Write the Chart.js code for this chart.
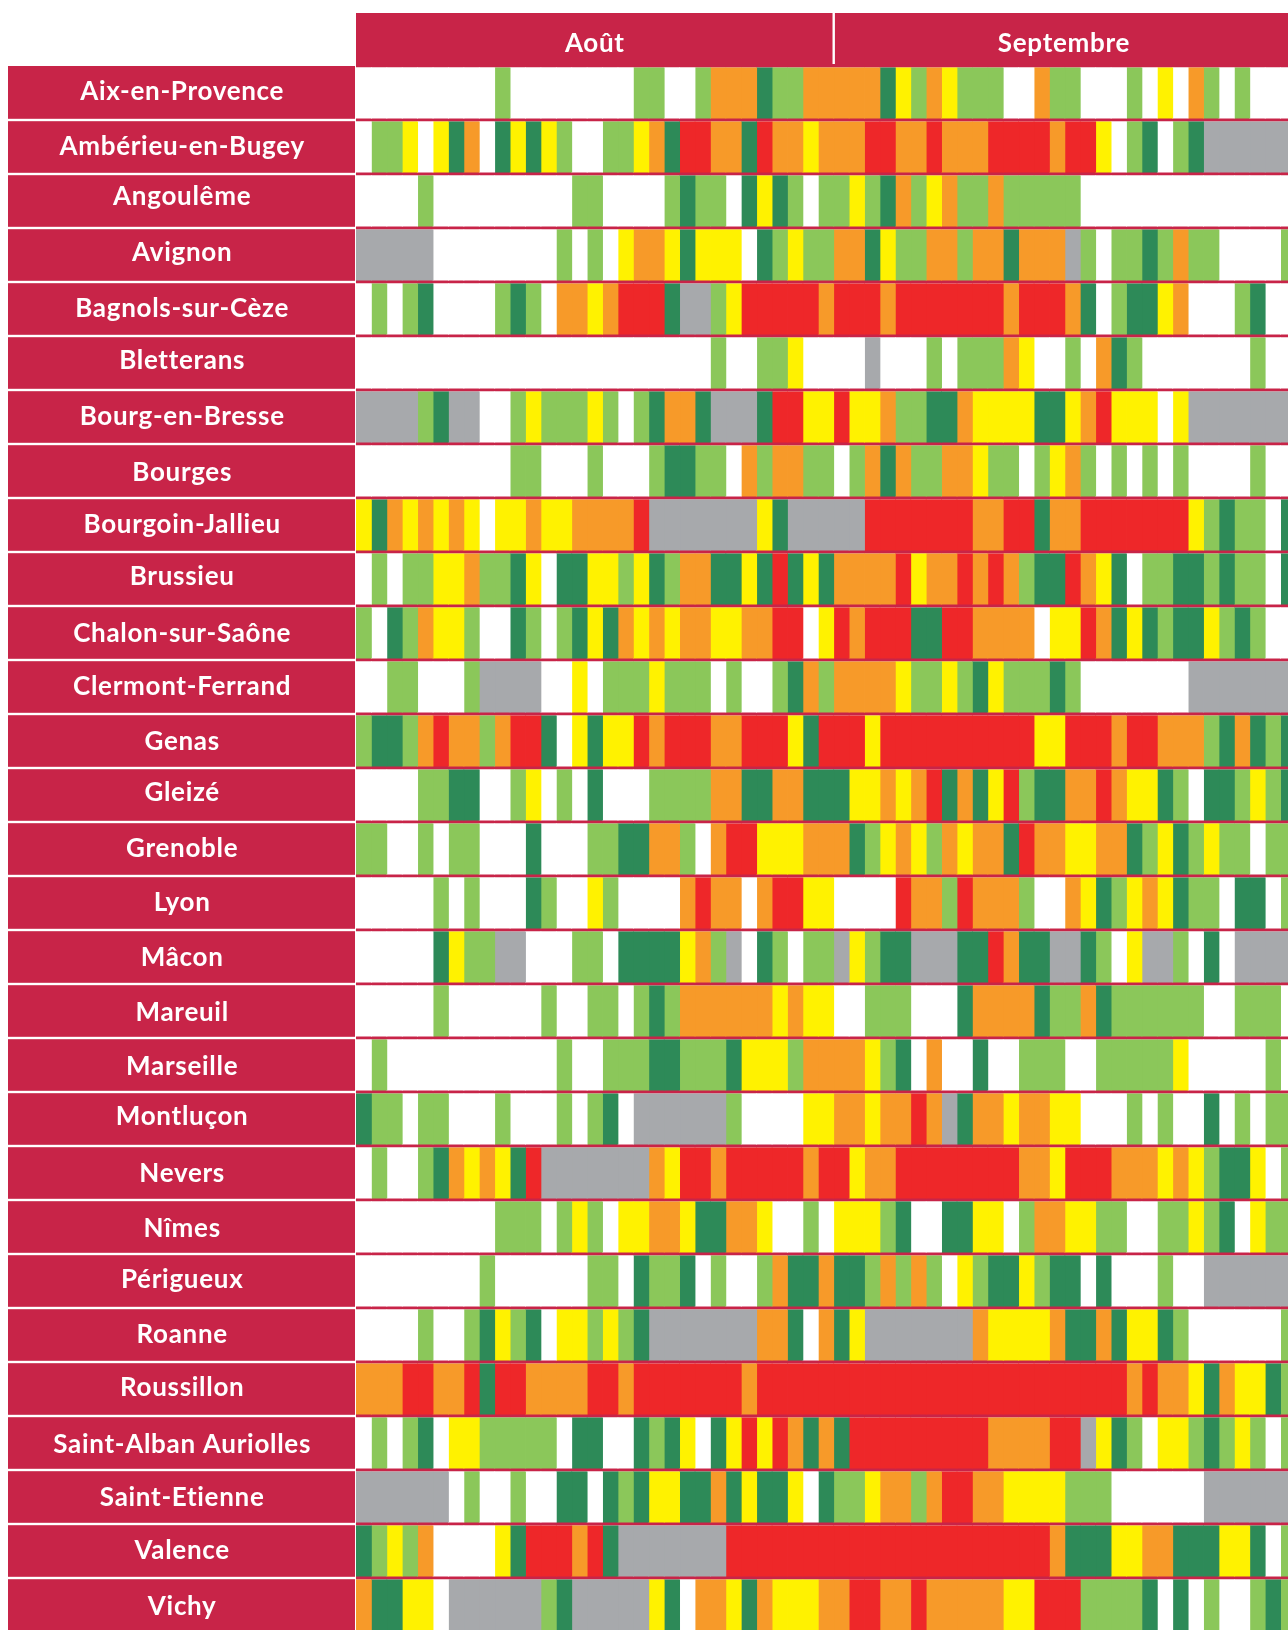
<!DOCTYPE html>
<html lang="fr">
<head>
<meta charset="utf-8">
<title>Août – Septembre</title>
<style>
html,body{margin:0;padding:0;background:#fff;width:1288px;height:1630px;overflow:hidden}
canvas{display:block}
</style>
<script src="https://cdn.jsdelivr.net/npm/chart.js@4"></script>
</head>
<body>
<canvas id="c" width="1288" height="1632"></canvas>
<script>
const cities = ["Aix-en-Provence","Ambérieu-en-Bugey","Angoulême","Avignon","Bagnols-sur-Cèze","Bletterans","Bourg-en-Bresse","Bourges","Bourgoin-Jallieu","Brussieu","Chalon-sur-Saône","Clermont-Ferrand","Genas","Gleizé","Grenoble","Lyon","Mâcon","Mareuil","Marseille","Montluçon","Nevers","Nîmes","Périgueux","Roanne","Roussillon","Saint-Alban Auriolles","Saint-Etienne","Valence","Vichy"];
const months = ["Août","Septembre"];
const monthCentres = [15.5,45.94];
const monthBreak = 31;
const dayCount = 61;
const visibleDays = 60.48;
// one letter per day, 1 Aug -> 30 Sep
const dailyLevels = [
"WWWWWWWWWGWWWWWWWWGGWWGOOODGGOOOOODYGOYGGGWWOGGWWWGWYWOGWGWWW",
"WGGYWYDOWDYDYGWWGGYODRROODROOYOOORROOROOORRRRORRYWGDWGDNNNNNN",
"WWWWGWWWWWWWWWGGWWWWGDGGWDYDGWGGYGDOGYOGGOGGGGGWWWWWWWWWWWWWW",
"NNNNNWWWWWWWWGWGWYOOYDYYYWDGYGGOODYGGOOGOODOOONGWGGDGOGGWWWWG",
"WGWGDWWWWGDGWOOYORRRDNNGYRRRRRORRRORRRRRRRORRRODWGDDYOWWWGDWW",
"WWWWWWWWWWWWWWWWWWWWWWWGWWGGYWWWWNWWWGWGGGOYWWGWODGWWWWWWWGWW",
"NNNNGDNNWWGYGGGYGWGDOODNNNDRRYYRYYOGGDDOYYYYDDYORYYYWYNNNNNNN",
"WWWWWWWWWWGGWWWGWWWGDDGGWOGOOGGWGODOGGOOYGGWGYOGWGWGWGWWWWGWW",
"YDOYOYOYWYYOYYOOOORNNNNNNNYDNNNNNRRRRRRROORRDOORRRRRRRYGDGGWD",
"WGWGGYYOGGDYWDDYYGYDGOODDYDRDYDOOOORYOOROROGDDROYDWGGDDGDGGWD",
"GWDGOYYGWWDGWGDYDOYOYOOYYOORRWYRORRRDDRROOOOWYYRODYDGDDYGDGWW",
"WWGGWWWGNNNNWWYWGGGYGGGWGWWGDOGOOOOYGGYGDYGGGDGWWWWWWWNNNNNNN",
"GDDGOROOGORRDWYDYYRORRROORRRYDRRRYRRRRRRRRRRYYRRRORROOOGDODGD",
"WWWWGGDDWWGYWGWDWWWGGGGOODDOODDDYYOYORDODYRGDDOOROYYDGWDDGYGD",
"GGWWGWGGWWWDWWWGGDDOOGWORRYYYOOODGYOYGOYOODROOYYOODGYDGYGGWGG",
"WWWWWGWGWWWDGWWYGWWWWOROOWORRYYWWWWROOGROOOGWWOYDGYOYDGGWDDWG",
"WWWWWDYGGNNWWWGGWDDDDYOGNWDGWGGNYGDDNNNDDRODDNNDGWYNNGWDWNNNN",
"WWWWWGWWWWWWGWWGGWGDGOOOOOOYOYYWWGGGWWWDOOOODGGODGGGGGGWWGGGW",
"WGWWWWWWWWWWWGWWGGGDDGGGDYYYGOOOOYGDWOWWDWWGGGWWGGGGGYWWWWWGW",
"DGGWGGWWWGWWWGWGDWNNNNNNGWWWWYYOOYOORONDOOYOOYYWWWGWGWWDWGWGG",
"WGWWGDOYOYDRNNNNNNNOYRRORRRRRORRYOORRRRRRRROOYRRROOOYOYGDDYWG",
"WWWWWWWWWGGGWGYGWYYOOYDDOOYWWGWYYYGDWWDDYYWGOOYYGGWWGGYGDWYGG",
"WWWWWWWWGWWWWWWGGWDGGDWGWWGODDODDGOGOGWYGDDYGDDWDWWWGWWNNNNNN",
"WWWWGWWGDYGDWYYGYGDNNNNNNNOODWODYNNNNNNNOYYYYODDODYYDGWWWWWWG",
"OOORROORDRROOOORRO"+"RRRRRRR"+"O"+"RRRRRRRRRRRR"+"RRRRRRRRRRRR"+"OROOYDOYYDG",
"WGWGDWYYGGGGGWDDWWDGDYWDYRYRODODRRRRRRRRROOOORRNYDGWYYGDGYGWG",
"NNNNNNWGWWGWWDDWDGDYYDDODYDDYWDGGYOOGORROOYYYYGGGWWWWWWNNNNNN",
"DGYGOWWWWYDRRRORDNNNNNNN"+"RRRRRRRRRR"+"RRRRRRRRRRR"+"ODDDYYOODDDYYDWG",
"ODDYYWNNNNNNGDNNNNNYDWOOYDOYYYOORROOROOOOOYYRRRGGGGDWDWGWWGDG"
];
const levelColours = {W:"#ffffff",G:"#8bc75a",D:"#2d8a58",Y:"#fff200",O:"#f79a29",R:"#ee2729",N:"#a7a9ac"};
const crimson = "#c82448";

dailyLevels.forEach((s,i)=>{ if(s.length!==dayCount) throw new Error("row "+i+" "+cities[i]+" len "+s.length); });

const datasets = [];
for (let d = 0; d < dayCount; d++) {
  datasets.push({
    label: "J" + (d + 1),
    data: cities.map(() => 1),
    backgroundColor: dailyLevels.map(r => levelColours[r[d]]),
    borderWidth: 0,
    inflateAmount: 0.4,
    barPercentage: 0.93,
    categoryPercentage: 1
  });
}

// small vertical corrections of the row names, as placed in the reference
const labelNudges = [-1.4,-0.1,-4.1,-2.1,-0.7,-2.7,-0.7,1.3,-0.7,-2.4,0.6,-0.1,0.6,-2.1,-0.7,-0.7,0.6,1.6,1.6,-2.4,0.9,1.3,-1.1,-0.1,-1.4,1.9,0.6,-0.4,1.6];

const panels = {
  id: "panels",
  beforeDraw(chart) {
    const {ctx, chartArea: a, scales: {x, y}} = chart;
    ctx.letterSpacing = "0.7px";
    ctx.save();
    ctx.fillStyle = "#fff";
    ctx.fillRect(0, 0, chart.width, chart.height);
    ctx.fillStyle = crimson;
    ctx.fillRect(a.left, 13, a.right - a.left, a.top - 13 + 1);
    ctx.fillStyle = "#fff";
    ctx.fillRect(x.getPixelForValue(monthBreak) - 1.2, 13, 2.4, a.top - 13);
    const h = (a.bottom - a.top) / cities.length;
    cities.forEach((_, i) => {
      const c = y.getPixelForTick(i);
      ctx.fillStyle = crimson;
      ctx.fillRect(8, c - h / 2 + (i ? 1.2 : 0), a.left - 9, h - (i ? 2.4 : 1.2));
    });
    ctx.restore();
    y.getLabelItems().forEach((it, i) => { it.options.translation[1] += labelNudges[i]; });
  }
};

function noPad(s) { s.paddingTop = s.paddingBottom = s.paddingLeft = s.paddingRight = 0; }

new Chart(document.getElementById("c"), {
  type: "bar",
  data: {labels: cities, datasets},
  plugins: [panels],
  options: {
    indexAxis: "y",
    responsive: false,
    animation: false,
    events: [],
    layout: {padding: 0},
    plugins: {legend: {display: false}, tooltip: {enabled: false}, title: {display: false}},
    scales: {
      x: {
        type: "linear", position: "top", stacked: true, min: 0, max: visibleDays,
        grid: {display: false, drawTicks: false}, border: {display: false},
        afterBuildTicks(s) { s.ticks = monthCentres.map(v => ({value: v})); },
        afterFit(s) { s.height = 66; noPad(s); },
        ticks: {
          autoSkip: false, maxRotation: 0, padding: 7, color: "#fff",
          font: {family: "Lato", weight: "bold", size: 26},
          callback: v => months[monthCentres.indexOf(v)]
        }
      },
      y: {
        type: "category", stacked: true, labels: cities,
        grid: {offset: true, color: crimson, lineWidth: 3.5, drawTicks: false},
        border: {display: false},
        afterFit(s) { s.width = 356; noPad(s); },
        ticks: {
          autoSkip: false, padding: 52.3, color: "#fff", crossAlign: "center",
          font: {family: "Lato", weight: "bold", size: 26}
        }
      }
    }
  }
});
</script>
</body>
</html>
